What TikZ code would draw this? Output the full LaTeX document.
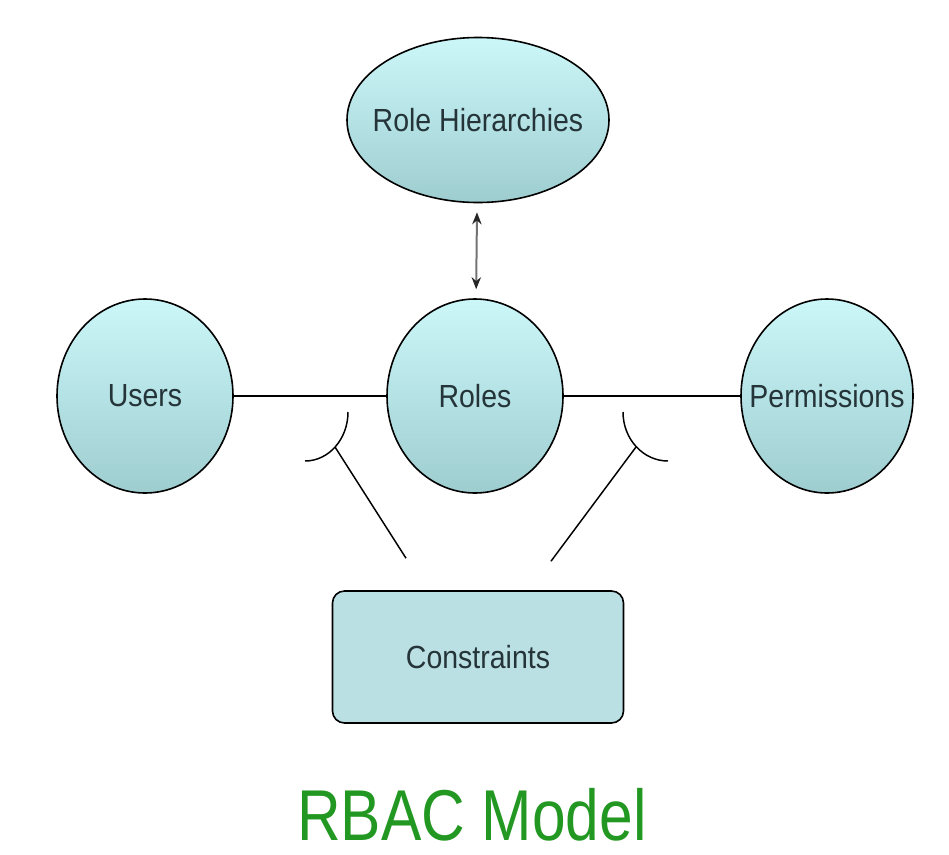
\documentclass[tikz,border=0pt]{standalone}
\usepackage{fontspec}
\setmainfont{Liberation Sans}
\usepackage{graphicx}
\usetikzlibrary{shapes.geometric}
\usetikzlibrary{arrows.meta}
\definecolor{top colour}{RGB}{204,247,249}
\definecolor{bottom colour}{RGB}{158,205,208}
\definecolor{box colour}{RGB}{186,224,228}
\definecolor{text colour}{RGB}{36,52,56}
\definecolor{title colour}{RGB}{34,152,34}
\tikzset{
    % A heavier head than the plain stealth, dark on a grey shaft
    >={Stealth[length=9pt, width=7pt, color=black!85]},
%
    % Fills
    cyan shade/.style={top color=top colour, bottom color=bottom colour},
    box fill/.style={fill=box colour},
    % Lines
    link/.style={draw=black, line width=1.1pt},
%
    every node/.style={align=center},
}
% The labels are set a little narrower than the font
\newcommand{\narrow}[2][0.89]{\scalebox{#1}[1]{#2}}

\begin{document}
\begin{tikzpicture}[
    x=0.75pt, y=-0.75pt,
    basic node/.style={draw, line width=1.2pt, inner sep=0},
    entity/.style={
        basic node, ellipse, cyan shade,
        minimum width=132pt, minimum height=145.5pt},
    tag/.style={font=\fontsize{24}{28}\selectfont, text=text colour},
]
\useasboundingbox (0,0) rectangle (949,854);

\path
    (478,120) node [entity, minimum width=196.5pt, minimum height=123.75pt,
        label={[tag]center:{\narrow{Role Hierarchies}}}] (hier) {}
    (145,396) node [entity, label={[tag]center:{\narrow{Users}}}] (users) {}
    (475,396) node [entity, label={[tag]center:{\narrow{Roles}}}] (roles) {}
    (827,396) node [entity, minimum width=129pt,
        label={[tag]center:{\narrow{Permissions}}}] (perms) {};

\path (478,657) node [basic node, box fill, rounded corners=9pt,
    minimum width=218.25pt, minimum height=99pt, tag] (cons)
    {\narrow{Constraints}};

\draw [<->, draw=black!55, line width=1.5pt,
    shorten >=6.75pt, shorten <=6.75pt] (hier) -- (roles);

\draw [link] (users) -- (roles);
\draw [link] (roles) -- (perms);

% Constraint marks on the two assignments
\draw [link] (348,412)
    arc [start angle=0, end angle=90, x radius=43, y radius=49];
\draw [link] (623,412)
    arc [start angle=180, end angle=90, x radius=45, y radius=49];
\path
    (335,447) coordinate (left joint)
    (636,447) coordinate (right joint)
    (cons.north) +(-72,-32) coordinate (left foot)
    (cons.north) +(73,-29) coordinate (right foot);
\draw [link] (left foot) -- (left joint);
\draw [link] (right foot) -- (right joint);

\path (472,840) node [anchor=base, inner sep=0, text=title colour,
    font=\fontsize{54}{60}\selectfont] (title) {\narrow[0.84]{RBAC Model}};

\end{tikzpicture}
\end{document}
